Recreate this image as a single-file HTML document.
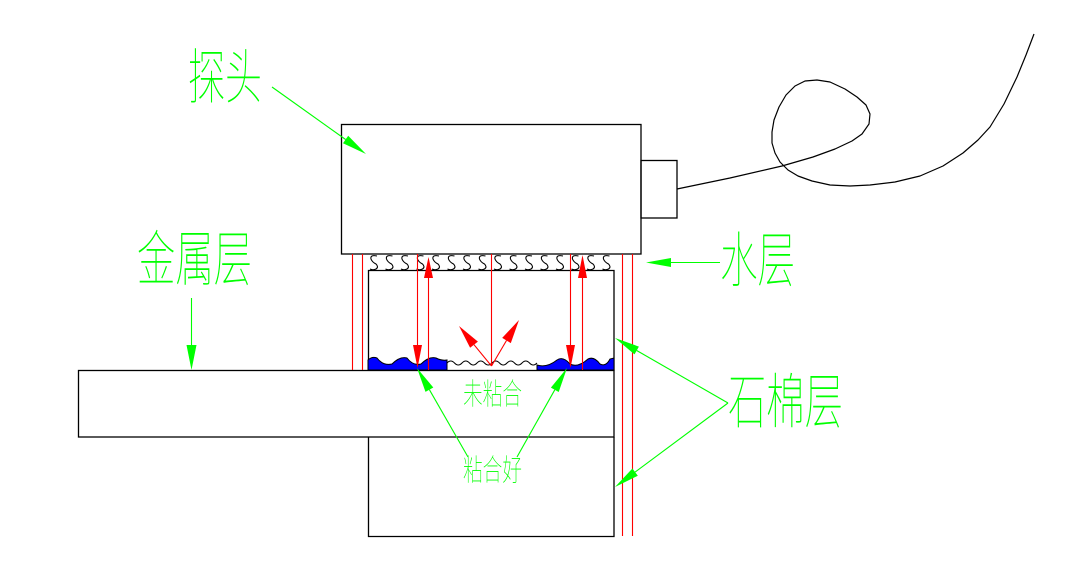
<!DOCTYPE html>
<html>
<head>
<meta charset="utf-8">
<style>
html,body{margin:0;padding:0;background:#fff;}
svg{display:block;}
.t{font-family:"Liberation Sans","Noto Sans CJK SC",sans-serif;fill:#00ff00;font-weight:100;}
</style>
</head>
<body>
<svg width="1077" height="571" viewBox="0 0 1077 571" xmlns="http://www.w3.org/2000/svg">
<defs>
<path id="sq" d="M7,256 Q0,254.5 1,259 Q2,262 6,264 Q9,267 6,269 Q3,270.5 0,269" fill="none" stroke="#000" stroke-width="1.1"/>
</defs>
<rect x="0" y="0" width="1077" height="571" fill="#fff"/>

<!-- probe -->
<rect x="341.5" y="124.5" width="299.5" height="129.5" fill="none" stroke="#000" stroke-width="1.3"/>
<rect x="641" y="160.5" width="36" height="57.5" fill="none" stroke="#000" stroke-width="1.3"/>

<!-- cable -->
<polyline fill="none" stroke="#000" stroke-width="1.2" stroke-linejoin="round"
 points="677,189 730,178 782,166 813,157 835,149 852,141 862,134 869,124 870,114 866,105 857,97 845,89 830,82 817,80 805,81 795,86 786,95 779,107 774,120 772,132 772,143 775,153 780,162 788,170 798,176 812,181 830,185 850,186 870,185 895,182 920,176 943,166 963,153 978,140 990,127 1004,104 1017,77 1026,55 1034,34"/>

<!-- metal layer -->
<rect x="78.5" y="370.5" width="535.5" height="66.5" fill="none" stroke="#000" stroke-width="1.3"/>
<!-- lower block -->
<polyline points="368.5,437 368.5,536.5 614,536.5 614,437" fill="none" stroke="#000" stroke-width="1.3"/>
<!-- inner box -->
<polyline points="368.5,370.5 368.5,270.5 614,270.5 614,370.5" fill="none" stroke="#000" stroke-width="1.3"/>

<!-- asbestos red lines -->
<g stroke="#ff0000" stroke-width="1.1">
<line x1="352.5" y1="254" x2="352.5" y2="370"/>
<line x1="362.5" y1="254" x2="362.5" y2="370"/>
<line x1="622.5" y1="254" x2="622.5" y2="536"/>
<line x1="632.5" y1="254" x2="632.5" y2="536"/>
</g>

<!-- water squiggles -->
<use href="#sq" x="370"/>
<use href="#sq" x="385.5"/>
<use href="#sq" x="401"/>
<use href="#sq" x="416.5"/>
<use href="#sq" x="432"/>
<use href="#sq" x="447.5"/>
<use href="#sq" x="463"/>
<use href="#sq" x="478.5"/>
<use href="#sq" x="494"/>
<use href="#sq" x="509.5"/>
<use href="#sq" x="525"/>
<use href="#sq" x="540.5"/>
<use href="#sq" x="556"/>
<use href="#sq" x="571.5"/>
<use href="#sq" x="587"/>
<use href="#sq" x="602.5"/>

<!-- blue bonded regions -->
<path d="M368,370 L368,360 Q372,356 377,358 Q383,366 392,364 Q400,356 407,358 Q413,366 421,364 Q429,356 436,358 Q442,361 447,360 L447,370 Z" fill="#0000ff" stroke="#000" stroke-width="1"/>
<path d="M537,370 L537,365 Q547,368 557,360 Q563,356 570,364 Q578,368 588,359 Q594,356 600,364 Q606,367 610,359 L614,358 L614,370 Z" fill="#0000ff" stroke="#000" stroke-width="1"/>
<!-- unbonded wavy line -->
<path d="M447,363 q3.75,-4 7.5,0 t7.5,0 t7.5,0 t7.5,0 t7.5,0 t7.5,0 t7.5,0 t7.5,0 t7.5,0 t7.5,0 t7.5,0 t7.5,0" fill="none" stroke="#000" stroke-width="1"/>

<!-- red beams -->
<g stroke="#ff0000" stroke-width="1.1">
<line x1="417.5" y1="254" x2="417.5" y2="366"/>
<line x1="428.5" y1="262" x2="428.5" y2="370"/>
<line x1="491.5" y1="254" x2="491.5" y2="366"/>
<line x1="570.5" y1="254" x2="570.5" y2="366"/>
<line x1="582.5" y1="260" x2="582.5" y2="370"/>
<line x1="491.5" y1="366" x2="474" y2="344.7"/>
<line x1="491.5" y1="366" x2="506.5" y2="340.5"/>
</g>
<g fill="#ff0000">
<polygon points="417.5,368 413,345 422,345"/>
<polygon points="570.5,368 566,345 575,345"/>
<polygon points="428.5,257 424,278 433,278"/>
<polygon points="582.5,255 578,278 587,278"/>
<polygon points="459,326 477.9,341.6 470.1,347.8"/>
<polygon points="519,320 510.8,343.1 502.2,337.9"/>
</g>

<!-- green leaders -->
<g stroke="#00ff00" stroke-width="1.1" fill="none">
<line x1="272" y1="87" x2="345.6" y2="139.5"/>
<line x1="191.5" y1="298" x2="191.5" y2="345"/>
<line x1="720" y1="262.5" x2="671" y2="262.5"/>
<line x1="728" y1="403" x2="636.7" y2="350.5"/>
<line x1="728" y1="403" x2="635.1" y2="472.1"/>
<line x1="468" y1="457" x2="429.4" y2="389.7"/>
<line x1="517" y1="457" x2="554.8" y2="389.8"/>
</g>
<g fill="#00ff00">
<polygon points="366,154 343,143.2 348.2,135.8"/>
<polygon points="191.5,370 186.5,345 196.5,345"/>
<polygon points="646,262.5 671,258 671,267"/>
<polygon points="615,338 638.9,346.6 634.5,354.4"/>
<polygon points="615,487 637.8,475.7 632.4,468.5"/>
<polygon points="417,368 433.3,387.5 425.5,391.9"/>
<polygon points="567,368 558.7,392 550.9,387.6"/>
</g>

<!-- labels -->
<text class="t" x="225" y="78" font-size="60" text-anchor="middle" dominant-baseline="central" textLength="74" lengthAdjust="spacingAndGlyphs">探头</text>
<text class="t" x="194.5" y="260" font-size="60" text-anchor="middle" dominant-baseline="central" textLength="115" lengthAdjust="spacingAndGlyphs">金属层</text>
<text class="t" x="757.5" y="261" font-size="60" text-anchor="middle" dominant-baseline="central" textLength="75" lengthAdjust="spacingAndGlyphs">水层</text>
<text class="t" x="785.5" y="402.5" font-size="60" text-anchor="middle" dominant-baseline="central" textLength="115" lengthAdjust="spacingAndGlyphs">石棉层</text>
<text class="t" x="492.5" y="395" font-size="30" text-anchor="middle" dominant-baseline="central" textLength="59" lengthAdjust="spacingAndGlyphs">未粘合</text>
<text class="t" x="492.5" y="471" font-size="30" text-anchor="middle" dominant-baseline="central" textLength="59" lengthAdjust="spacingAndGlyphs">粘合好</text>
</svg>
</body>
</html>
